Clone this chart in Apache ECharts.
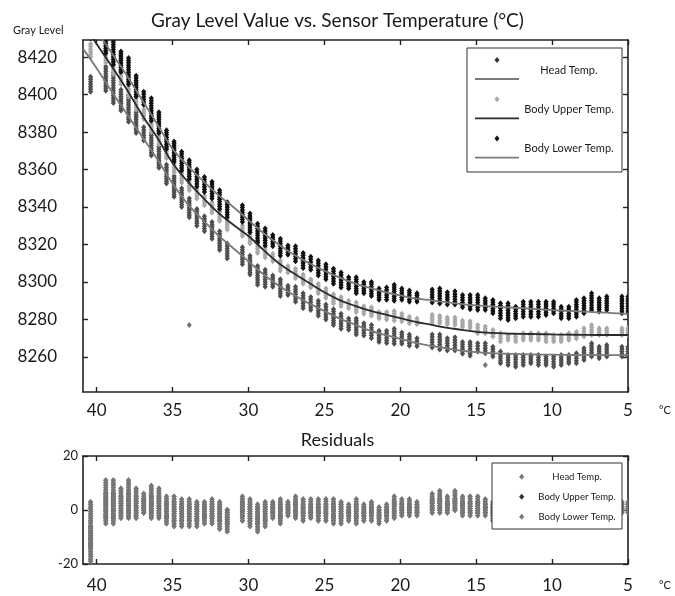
<!DOCTYPE html>
<html><head><meta charset="utf-8">
<script src="https://cdn.jsdelivr.net/npm/echarts@6/dist/echarts.min.js"></script>
<style>html,body{margin:0;padding:0;background:#fff}#c{width:675px;height:596px}</style>
</head><body><div id="c"></div>
<script>
// ---------- data ----------
const seriesNames = ['Head Temp.', 'Body Upper Temp.', 'Body Lower Temp.'];
const xTicks = [5, 10, 15, 20, 25, 30, 35, 40];
const yTicks = [8260, 8280, 8300, 8320, 8340, 8360, 8380, 8400, 8420];
const resTicks = [-20, 0, 20];

const temps = [40.4, 39.4, 38.9, 38.4, 37.9, 37.4, 36.9, 36.4, 35.9, 35.4, 34.9, 34.4, 33.9, 33.4, 32.9, 32.4, 31.9, 31.4, 30.4, 29.9,
  29.4, 28.9, 28.4, 27.9, 27.4, 26.9, 26.4, 25.9, 25.4, 24.9, 24.4, 23.9, 23.4, 22.9, 22.4, 21.9, 21.4, 20.9, 20.4, 19.9,
  19.4, 18.9, 17.9, 17.4, 16.9, 16.4, 15.9, 15.4, 14.9, 14.4, 13.9, 13.4, 12.9, 12.4, 11.9, 11.4, 10.9, 10.4, 9.9, 9.4,
  8.9, 8.4, 7.9, 7.4, 6.9, 6.4, 5.4, 5.0];

const headLo = [8401.5, 8402, 8395.5, 8391.5, 8385.5, 8379.5, 8375.5, 8367.5, 8361, 8352.5,
  8345.5, 8340, 8334.5, 8330, 8327, 8323, 8317, 8312.5, 8309.5, 8304,
  8298.5, 8297.5, 8297.5, 8292.5, 8293, 8289.5, 8286, 8285, 8282, 8280,
  8277, 8275, 8274.5, 8272, 8271.5, 8270, 8268, 8267.5, 8267, 8267,
  8266, 8265.7, 8265, 8264, 8263.4, 8263.5, 8261.7, 8260.6, 8262.9, 8262,
  8260.2, 8256.6, 8255.7, 8254.8, 8255.7, 8256.6, 8255.7, 8255.7, 8254.8, 8255.7,
  8256.6, 8256.6, 8258.4, 8260.2, 8259.3, 8260.2, 8260.2, 8260.2];
const headHi = [8409.5, 8415, 8411.5, 8402.5, 8399.5, 8390.5, 8382.5, 8379.5, 8372, 8362.5,
  8356.5, 8350, 8344.5, 8339, 8335, 8332, 8327, 8320.5, 8318.5, 8314,
  8308.5, 8306.5, 8303.5, 8301.5, 8298, 8297.5, 8294, 8292, 8290, 8288,
  8285.5, 8283, 8280.5, 8280.5, 8278, 8277, 8274, 8274, 8275, 8273,
  8272, 8270, 8272, 8272, 8270, 8270.5, 8268, 8268, 8267.3, 8267.3,
  8265.5, 8262.9, 8261.1, 8261.1, 8261.1, 8261.1, 8261.1, 8260.2, 8260.2, 8261.1,
  8261.1, 8262, 8264.6, 8267.3, 8265.5, 8266.4, 8265.5, 8265.5];
const upperLo = [8420, 8417, 8411, 8405.5, 8399, 8392, 8387, 8380, 8373.5, 8366,
  8358.5, 8353, 8349, 8344.5, 8341, 8337, 8332.5, 8328, 8324.5, 8320.5,
  8315.5, 8313, 8311, 8306, 8305, 8302, 8299, 8297, 8294, 8291.5,
  8288.5, 8287, 8286, 8284, 8283, 8282, 8280.5, 8280, 8279.5, 8279,
  8278, 8277.5, 8278.5, 8278, 8277.5, 8277, 8276, 8275.5, 8272.6, 8272.6,
  8270.9, 8268.2, 8269, 8268.2, 8269, 8269, 8269, 8268.2, 8268.2, 8268.2,
  8269, 8269.9, 8270.9, 8271.7, 8271.7, 8271.7, 8271.7, 8271.7];
const upperHi = [8427, 8427, 8421, 8412.5, 8407, 8399, 8392, 8388, 8380.5, 8372,
  8365, 8359.5, 8355, 8350, 8346, 8342.5, 8338.5, 8333, 8330, 8326.5,
  8321.5, 8318.5, 8315, 8311.5, 8308.5, 8307, 8304, 8301.5, 8299, 8296.5,
  8293.5, 8292, 8290, 8289, 8287, 8286.5, 8284, 8284, 8284.5, 8283,
  8281.5, 8280.5, 8282.5, 8282, 8281, 8281, 8279.5, 8279, 8277, 8276.2,
  8274.4, 8272.6, 8271.7, 8270.9, 8272.6, 8272.6, 8272.6, 8272.6, 8271.7, 8271.7,
  8272.6, 8273.5, 8275.3, 8277.1, 8275.3, 8275.3, 8275.3, 8275.3];
const lowerLo = [8430, 8422, 8416, 8412, 8405.5, 8399, 8394.5, 8386, 8379.5, 8371,
  8364, 8359.5, 8355, 8351, 8348, 8344.5, 8339, 8334.5, 8332, 8326.5,
  8321, 8319.5, 8319, 8314, 8314.5, 8311, 8307.5, 8306.5, 8303.5, 8301.5,
  8299, 8297, 8296.5, 8294, 8294, 8292.5, 8290.5, 8290.5, 8290, 8290.5,
  8289.5, 8289.5, 8289, 8288.5, 8288, 8288, 8286.5, 8285.5, 8285, 8285,
  8283.3, 8280.6, 8279.7, 8280.6, 8281.5, 8281.5, 8281.5, 8282.4, 8283.3, 8280.6,
  8280.6, 8281.5, 8283.3, 8285, 8284.2, 8285, 8283.3, 8283.3];
const lowerHi = [8442, 8438, 8432, 8423, 8419.5, 8410, 8401.5, 8398, 8390.5, 8381,
  8375, 8369.5, 8365, 8360, 8356, 8353.5, 8349, 8342.5, 8341, 8336.5,
  8331, 8328.5, 8325, 8323, 8319.5, 8319, 8315.5, 8313.5, 8311.5, 8309.5,
  8307, 8305, 8302.5, 8302.5, 8300, 8300, 8296.5, 8297, 8298.5, 8296.5,
  8295.5, 8294, 8296, 8296.5, 8294.5, 8295, 8293, 8293, 8293, 8291.3,
  8290.4, 8288.6, 8288.6, 8286.8, 8289.5, 8289.5, 8289.5, 8289.5, 8289.5, 8286.8,
  8286.8, 8290.4, 8291.3, 8294, 8291.3, 8292.2, 8292.2, 8292.2];
const headOutliers = [[33.9, 8277], [14.4, 8255.7]];

// fitted curves
const fitT = [40.9, 40, 39, 38, 37, 36, 35, 34, 33, 32, 31, 30, 29, 28, 27, 26, 25, 24, 23, 22, 21, 20, 19, 18, 17, 16, 15, 14, 13, 12, 11, 10, 9, 8, 7, 6, 5];
const headFit = [8424.5, 8414, 8401.5, 8389.5, 8377.5, 8365.5, 8352.5, 8341.5, 8333, 8325, 8318, 8311, 8304, 8298, 8293, 8288.5, 8284.5, 8280.5, 8277.3, 8274, 8271.8, 8269.7, 8267.5, 8266, 8264.7, 8263.4, 8262.6, 8262, 8261.7, 8261.5, 8261.3, 8261.2, 8261.1, 8261, 8261, 8261, 8261];
const upperFit = [8438, 8427, 8415, 8402.5, 8389, 8377, 8363.5, 8353.5, 8345, 8337, 8330.5, 8324.5, 8317, 8310, 8304.5, 8299.5, 8294.5, 8290.3, 8287.3, 8284.7, 8282.7, 8280.7, 8278.7, 8277.2, 8275.7, 8274.5, 8273.4, 8272.8, 8272.5, 8272.3, 8272.2, 8272, 8271.9, 8271.8, 8271.7, 8271.7, 8271.7];
const lowerFit = [8445, 8434, 8422, 8410, 8397, 8384, 8371, 8362, 8354, 8346.5, 8340, 8333, 8326, 8320, 8314.5, 8310, 8306, 8302.3, 8299.3, 8296.8, 8294.6, 8292.8, 8291.2, 8290.2, 8289.2, 8288.3, 8287.5, 8287, 8286.5, 8286, 8285.5, 8285, 8284.6, 8284.2, 8283.8, 8283.4, 8283];

// residuals (Head and Body Lower share the read range; Body Upper lies inside)
const resHi = [3, 11, 11, 8, 11, 8, 6, 9, 8, 5, 5, 4, 4, 3, 3, 4, 3, 0, 5, 4,
  2, 3, 3, 4, 3, 5, 4, 4, 4, 4, 4, 3, 2, 4, 2, 3, 1, 2, 5, 4,
  4, 3, 6, 7, 5, 7, 5, 5, 5, 4, 3, 2, 2, 1, 3, 3, 3, 3, 3, 2,
  2, 4, 5, 6, 5, 5, 3, 3];
const resLo = [-19, -5, -5, -3, -3, -3, -1, -3, -3, -5, -6, -6, -6, -6, -5, -5, -7, -8, -4, -6,
  -8, -6, -3, -5, -2, -3, -4, -3, -4, -4, -5, -5, -4, -5, -4, -4, -5, -4, -3, -2,
  -2, -2, -1, -1, -1, 0, -2, -2, -2, -2, -4, -6, -6, -5, -4, -4, -4, -3, -3, -4,
  -4, -3, -2, -1, -1, -1, -1, -1];
const resUpHi = [-6, 6, 6, 5, 6, 5, 4, 5, 5, 3, 3, 2, 2, 2, 2, 2, 2, 0, 3, 2,
  1, 2, 2, 2, 2, 3, 2, 2, 2, 2, 2, 2, 1, 2, 1, 2, 0, 1, 3, 2,
  2, 2, 4, 4, 3, 4, 3, 3, 3, 2, 2, 1, 1, 0, 2, 2, 2, 2, 2, 1,
  1, 2, 3, 4, 3, 3, 2, 2];
const resUpLo = [-14, -3, -3, -2, -2, -2, -1, -2, -2, -3, -4, -4, -4, -4, -3, -3, -4, -5, -2, -4,
  -5, -4, -2, -3, -1, -2, -2, -2, -2, -2, -3, -3, -2, -3, -2, -2, -3, -2, -2, -1,
  -1, -1, 0, 0, 0, 0, -1, -1, -1, -1, -2, -4, -4, -3, -2, -2, -2, -2, -2, -2,
  -2, -2, -1, 0, 0, 0, 0, 0];

// ---------- styling ----------
const FONT = 'Lato, "Open Sans", sans-serif';
const TXT = '#1a1a1a';
const pointColors = ['#4f4f4f', '#a8a8a8', '#111111'];
const fitColors = ['#7a7a7a', '#2a2a2a', '#7a7a7a'];
const legendMarkColors = ['#333333', '#a8a8a8', '#111111'];
const resColors = ['#777777', '#2e2e2e', '#777777'];

function zip(lo, hi) { return temps.map((t, i) => [t, lo[i], hi[i]]); }

function stackRender(color) {
  return function (params, api) {
    const x = api.value(0);
    const a = api.coord([x, api.value(1)]);
    const b = api.coord([x, api.value(2)]);
    const cx = a[0];
    const yTop = Math.min(a[1], b[1]), yBot = Math.max(a[1], b[1]);
    const step = 2.4;
    const n = Math.max(1, Math.round((yBot - yTop) / step));
    const children = [];
    for (let i = 0; i <= n; i++) {
      const y = yTop + (yBot - yTop) * i / n;
      children.push({ type: 'polygon', shape: { points: [[cx, y - 3], [cx + 2.6, y], [cx, y + 3], [cx - 2.6, y]] }, style: { fill: color } });
    }
    return { type: 'group', children };
  };
}

const plain = v => String(v);

function xAx(grid, pos, labels, margin) {
  return {
    gridIndex: grid, type: 'value', min: 5, max: 40.9, inverse: true, position: pos,
    axisLine: { show: true, onZero: false, lineStyle: { color: '#222', width: 1.6 } },
    axisTick: { show: true, inside: true, length: 5, customValues: xTicks, lineStyle: { color: '#222', width: 1.4 } },
    axisLabel: { show: labels, customValues: xTicks, formatter: plain, margin: margin, fontFamily: FONT, fontSize: 17, color: TXT },
    splitLine: { show: false }
  };
}
function yAx(grid, pos, min, max, ticks, labels, margin, size) {
  return {
    gridIndex: grid, type: 'value', min: min, max: max, position: pos,
    axisLine: { show: true, onZero: false, lineStyle: { color: '#222', width: 1.6 } },
    axisTick: { show: true, inside: true, length: 5, customValues: ticks, lineStyle: { color: '#222', width: 1.4 } },
    axisLabel: { show: labels, customValues: ticks, formatter: plain, margin: margin, fontFamily: FONT, fontSize: size, color: TXT },
    splitLine: { show: false }
  };
}

const topPts = [zip(headLo, headHi), zip(upperLo, upperHi), zip(lowerLo, lowerHi)];
const fits = [headFit, upperFit, lowerFit];
const resData = [zip(resLo, resHi), zip(resUpLo, resUpHi), zip(resLo, resHi)];

const series = [];
[0, 1, 2].forEach(i => {
  series.push({ type: 'custom', name: seriesNames[i], xAxisIndex: 0, yAxisIndex: 0, clip: true, z: 2,
    renderItem: stackRender(pointColors[i]), encode: { x: 0, y: [1, 2] }, data: topPts[i] });
});
series.push({ type: 'scatter', xAxisIndex: 0, yAxisIndex: 0, symbol: 'diamond', symbolSize: [5, 6],
  itemStyle: { color: pointColors[0] }, data: headOutliers, z: 2 });
[0, 1, 2].forEach(i => {
  series.push({ type: 'line', xAxisIndex: 0, yAxisIndex: 0, smooth: 0.4, symbol: 'none', clip: true, z: 4,
    lineStyle: { color: fitColors[i], width: 1.8 }, data: fitT.map((t, k) => [t, fits[i][k]]) });
});
[1, 0, 2].forEach(i => {
  series.push({ type: 'custom', xAxisIndex: 2, yAxisIndex: 2, clip: true, z: 2,
    renderItem: stackRender(resColors[i]), encode: { x: 0, y: [1, 2] }, data: resData[i] });
});

// legends as graphic
const g = [];
g.push({ type: 'rect', z: 100, shape: { x: 467, y: 48, width: 155, height: 124 }, style: { fill: '#fff', stroke: '#333', lineWidth: 1 } });
seriesNames.forEach((n, i) => {
  const my = 60 + 39.3 * i, ly = 79 + 39.3 * i, ty = 70 + 39.3 * i;
  g.push({ type: 'polygon', z: 101, shape: { points: [[497, my - 3], [499.5, my], [497, my + 3], [494.5, my]] }, style: { fill: legendMarkColors[i] } });
  g.push({ type: 'line', z: 101, shape: { x1: 475, y1: ly, x2: 519, y2: ly }, style: { stroke: fitColors[i], lineWidth: 1.8 } });
  g.push({ type: 'text', z: 101, x: 569, y: ty, style: { text: n, fontFamily: FONT, fontSize: 11, fill: TXT, align: 'center', verticalAlign: 'middle' } });
});
g.push({ type: 'rect', z: 100, shape: { x: 492, y: 463, width: 130, height: 66 }, style: { fill: '#fff', stroke: '#333', lineWidth: 1 } });
seriesNames.forEach((n, i) => {
  const my = 476.7 + 20 * i;
  g.push({ type: 'polygon', z: 101, shape: { points: [[521.7, my - 3], [524.3, my], [521.7, my + 3], [519.1, my]] }, style: { fill: resColors[i] } });
  g.push({ type: 'text', z: 101, x: 577, y: my, style: { text: n, fontFamily: FONT, fontSize: 9.5, fill: TXT, align: 'center', verticalAlign: 'middle' } });
});
g.push({ type: 'text', x: 665, y: 410, style: { text: '°C', fontFamily: FONT, fontSize: 11, fill: TXT, align: 'center', verticalAlign: 'middle' } });
g.push({ type: 'text', x: 665, y: 585, style: { text: '°C', fontFamily: FONT, fontSize: 11, fill: TXT, align: 'center', verticalAlign: 'middle' } });

const chart = echarts.init(document.getElementById('c'), null, { renderer: 'canvas' });
chart.setOption({
  backgroundColor: '#fff',
  animation: false,
  title: [
    { text: 'Gray Level Value vs. Sensor Temperature (°C)', left: 'center', top: 6, textStyle: { fontFamily: FONT, fontSize: 19, fontWeight: 'normal', color: TXT } },
    { text: 'Residuals', left: 'center', top: 426, textStyle: { fontFamily: FONT, fontSize: 18, fontWeight: 'normal', color: TXT } },
    { text: 'Gray Level', left: 8, top: 20, textStyle: { fontFamily: FONT, fontSize: 11, fontWeight: 'normal', color: TXT } }
  ],
  grid: [
    { left: 83, right: 47, top: 40, height: 352 },
    { left: 83, right: 47, top: 456, height: 108 }
  ],
  xAxis: [xAx(0, 'bottom', true, 10), xAx(0, 'top', false, 8), xAx(1, 'bottom', true, 13), xAx(1, 'top', false, 8)],
  yAxis: [
    yAx(0, 'left', 8241.3, 8429.1, yTicks, true, 26, 17),
    yAx(0, 'right', 8241.3, 8429.1, yTicks, false, 8, 17),
    yAx(1, 'left', -20, 20, resTicks, true, 5, 13),
    yAx(1, 'right', -20, 20, resTicks, false, 5, 13)
  ],
  graphic: g,
  series: series
});
</script></body></html>
